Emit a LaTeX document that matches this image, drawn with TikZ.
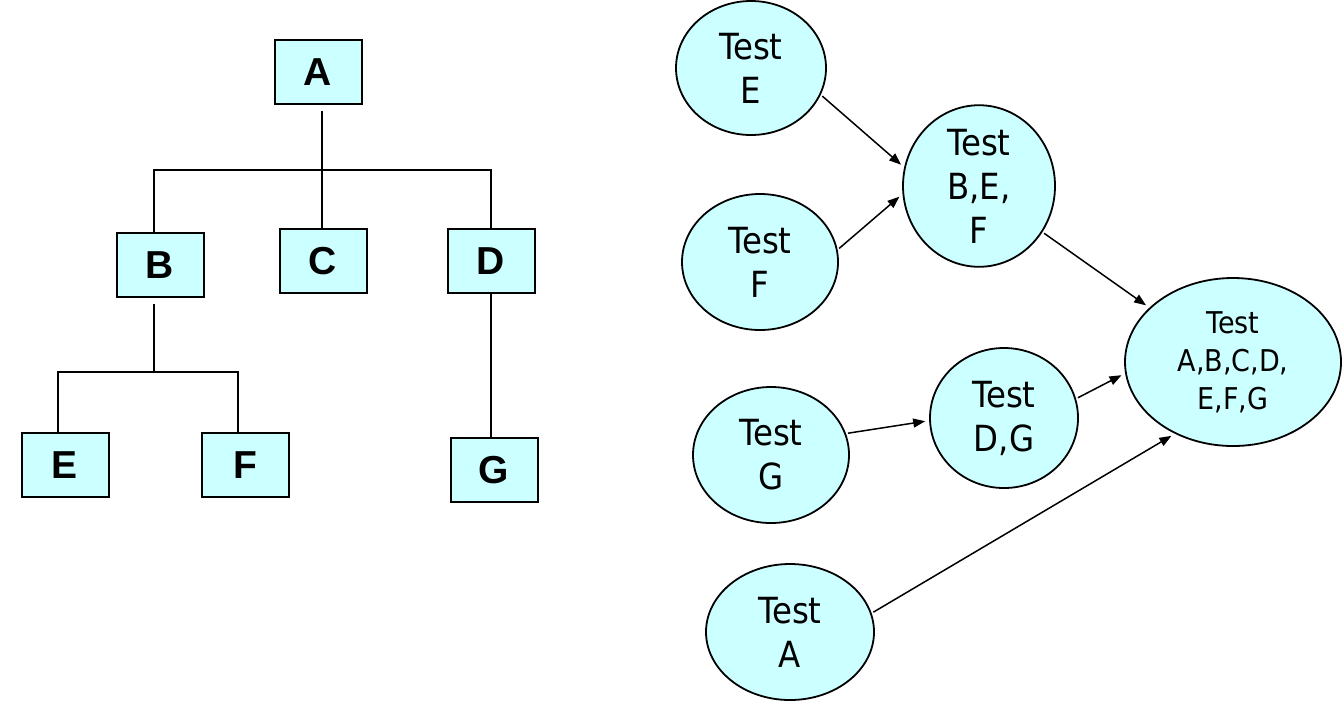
\documentclass[tikz,border=0pt]{standalone}
\usepackage{fontspec}
\setmainfont{DejaVu Sans Condensed}
\newfontfamily\boxfont{Liberation Sans}
\usetikzlibrary{shapes.geometric,arrows.meta}
\definecolor{testcyan}{RGB}{204,255,255}

\begin{document}
\begin{tikzpicture}[x=0.5pt,y=-0.5pt,
  modbox/.style={draw, line width=1pt, fill=testcyan, minimum width=43.5pt, minimum height=32pt, inner sep=0pt, font=\boxfont\bfseries\fontsize{19.5}{19.5}\selectfont},
  testell/.style={draw, ellipse, line width=0.9pt, fill=testcyan, inner sep=0pt, align=center, font=\fontsize{18}{22}\selectfont},
  link/.style={line width=1pt},
  flow/.style={-{Triangle[length=6pt,width=4.5pt]}, line width=0.75pt, shorten <=1pt, shorten >=2pt}]
\useasboundingbox (0,0) rectangle (1342,725);

%module tree
\node[modbox] (A) at (318,72) {A};
\node[modbox] (B) at (160,265) {B};
\node[modbox] (C) at (323,261) {C};
\node[modbox] (D) at (491,261) {D};
\node[modbox] (E) at (65,465) {E};
\node[modbox] (F) at (245,465) {F};
\node[modbox] (G) at (494,470) {G};
\coordinate (jA) at (322,170);
\coordinate (jB) at (154,372);

\draw[link] ([xshift=2pt,yshift=-3pt]A.south) -- (jA) -- (jA |- C.north);
\draw[link] (B.north -| jB) |- (jA) -| (D.north);
\draw[link] ([yshift=-3pt]B.south -| jB) -- (jB);
\draw[link] ([xshift=-3.5pt]E.north) |- (jB) -| ([xshift=-3.5pt]F.north);
\draw[link] (D.south) -- (D.south |- G.north);

%test order
\node[testell, minimum width=75pt, minimum height=67pt] (tE) at (751,68) {Test\\E};
\node[testell, minimum width=78pt, minimum height=68pt] (tF) at (760,262) {Test\\F};
\node[testell, minimum width=78pt, minimum height=68pt] (tG) at (771,455) {Test\\G};
\node[testell, minimum width=84pt, minimum height=68pt] (tA) at (790,632) {Test\\A};
\node[testell, minimum width=76pt, minimum height=69pt] (tBEF) at (979,186) {Test\\B,E,\\F};
\node[testell, minimum width=74pt, minimum height=70pt] (tDG) at (1004,418) {Test\\D,G};
\node[testell, minimum width=108pt, minimum height=84pt, font=\fontsize{15}{19}\selectfont] (tAll) at (1233,362) {Test\\A,B,C,D,\\E,F,G};

\draw[flow] (tE.-21) -- (tBEF.166);
\draw[flow] (tF.9) -- (tBEF.186);
\draw[flow] (tBEF.-36) -- (tAll.147);
\draw[flow] (tG.16) -- (tDG.182);
\draw[flow] (tDG.15) -- (tAll.186);
\draw[flow] (tA.13) -- (tAll.231);
\end{tikzpicture}
\end{document}
